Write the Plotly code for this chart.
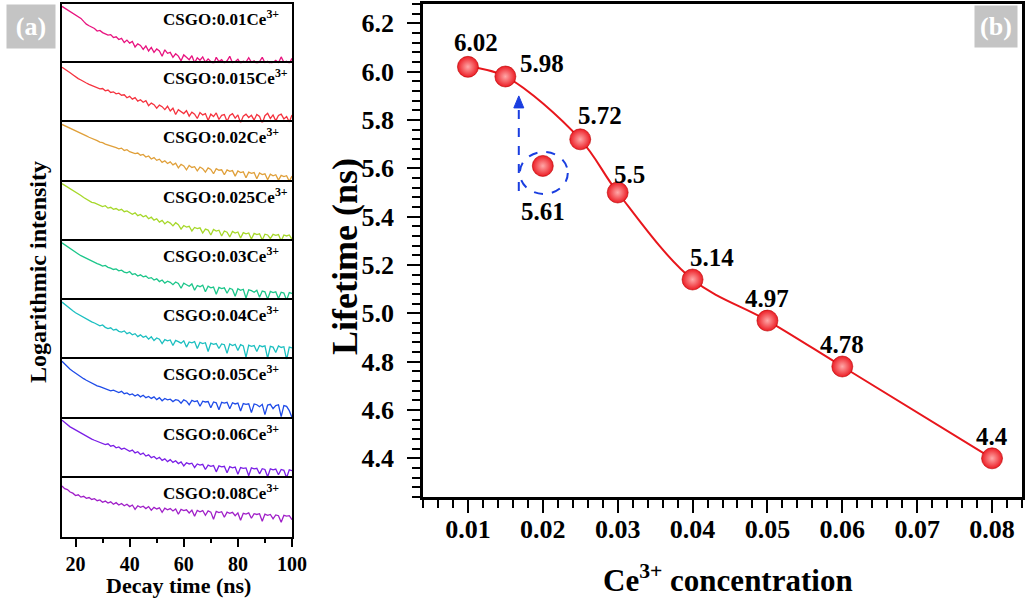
import plotly.graph_objects as go

# ---------------- data ----------------
t_ns = list(range(15, 101))

sample_labels = ["CSGO:0.01Ce<sup>3+</sup>", "CSGO:0.015Ce<sup>3+</sup>", "CSGO:0.02Ce<sup>3+</sup>",
                 "CSGO:0.025Ce<sup>3+</sup>", "CSGO:0.03Ce<sup>3+</sup>", "CSGO:0.04Ce<sup>3+</sup>",
                 "CSGO:0.05Ce<sup>3+</sup>", "CSGO:0.06Ce<sup>3+</sup>", "CSGO:0.08Ce<sup>3+</sup>"]

decay_001 = [3.88, 3.79, 3.70, 3.63, 3.52, 3.46, 3.35, 3.27, 3.12, 2.98,
             2.90, 2.82, 2.76, 2.63, 2.66, 2.55, 2.50, 2.42, 2.45, 2.30,
             2.34, 2.20, 2.26, 2.05, 2.17, 2.02, 2.10, 1.82, 1.98, 1.90,
             1.70, 1.88, 1.62, 1.80, 1.55, 1.72, 1.62, 1.35, 1.68, 1.50,
             1.55, 1.30, 1.48, 1.36, 1.12, 1.42, 1.30, 1.18, 1.38, 1.02,
             1.28, 1.15, 1.32, 1.05, 1.22, 1.10, 0.95, 1.30, 1.08, 1.18,
             1.00, 1.12, 1.35, 1.02, 1.08, 1.20, 0.98, 1.10, 1.06, 1.28,
             1.04, 1.12, 0.96, 1.08, 1.30, 1.02, 1.10, 0.94, 1.06, 1.15,
             1.02, 1.32, 1.05, 1.10, 0.98, 1.25]
decay_0015 = [3.80, 3.72, 3.62, 3.52, 3.42, 3.30, 3.22, 3.15, 3.06, 3.00,
              2.93, 2.88, 2.80, 2.74, 2.70, 2.72, 2.60, 2.64, 2.52, 2.55,
              2.45, 2.48, 2.38, 2.40, 2.25, 2.32, 2.18, 2.26, 2.08, 2.15,
              2.02, 2.10, 1.85, 1.98, 1.90, 1.72, 1.88, 1.80, 1.65, 1.82,
              1.58, 1.72, 1.40, 1.65, 1.55, 1.45, 1.60, 1.32, 1.52, 1.42,
              1.20, 1.50, 1.38, 1.45, 1.10, 1.42, 1.30, 1.48, 1.15, 1.36,
              1.40, 1.05, 1.35, 1.44, 1.22, 1.38, 0.98, 1.32, 1.42, 1.25,
              1.36, 1.12, 1.40, 1.30, 0.95, 1.34, 1.46, 1.20, 1.38, 1.08,
              1.35, 1.42, 1.18, 1.30, 1.02, 1.38]
decay_002 = [3.90, 3.84, 3.76, 3.70, 3.64, 3.58, 3.50, 3.45, 3.38, 3.32,
             3.25, 3.20, 3.12, 3.08, 3.00, 2.98, 2.90, 2.86, 2.80, 2.76,
             2.72, 2.66, 2.70, 2.58, 2.62, 2.52, 2.48, 2.42, 2.45, 2.34,
             2.38, 2.25, 2.30, 2.15, 2.22, 2.08, 2.14, 1.98, 2.06, 1.92,
             2.00, 1.85, 1.94, 1.70, 1.88, 1.80, 1.60, 1.82, 1.72, 1.76,
             1.55, 1.74, 1.66, 1.48, 1.70, 1.62, 1.40, 1.66, 1.58, 1.60,
             1.35, 1.60, 1.52, 1.56, 1.28, 1.54, 1.46, 1.50, 1.20, 1.48,
             1.42, 1.46, 1.15, 1.44, 1.36, 1.40, 1.10, 1.38, 1.30, 1.35,
             1.08, 1.32, 1.26, 1.30, 1.02, 1.28]
decay_0025 = [3.90, 3.82, 3.72, 3.64, 3.55, 3.46, 3.38, 3.30, 3.20, 3.12,
              3.02, 2.95, 2.92, 2.85, 2.80, 2.74, 2.78, 2.66, 2.70, 2.60,
              2.64, 2.55, 2.60, 2.48, 2.52, 2.45, 2.35, 2.42, 2.28, 2.34,
              2.22, 2.28, 2.12, 2.20, 2.05, 2.12, 1.95, 2.04, 1.86, 1.98,
              1.90, 1.76, 1.92, 1.82, 1.60, 1.78, 1.70, 1.74, 1.50, 1.68,
              1.62, 1.66, 1.40, 1.60, 1.55, 1.30, 1.58, 1.50, 1.54, 1.25,
              1.50, 1.44, 1.20, 1.48, 1.40, 1.45, 1.15, 1.42, 1.36, 1.40,
              1.10, 1.38, 1.32, 1.36, 1.05, 1.34, 1.30, 1.12, 1.33, 1.28,
              1.32, 1.00, 1.30, 1.25, 1.30, 1.08]
decay_003 = [3.90, 3.80, 3.70, 3.60, 3.50, 3.42, 3.34, 3.25, 3.18, 3.10,
             3.04, 2.98, 2.90, 2.85, 2.80, 2.72, 2.76, 2.66, 2.62, 2.55,
             2.58, 2.48, 2.52, 2.42, 2.38, 2.45, 2.30, 2.34, 2.22, 2.28,
             2.18, 2.22, 2.10, 2.14, 2.02, 2.08, 1.94, 2.02, 1.86, 1.96,
             1.90, 1.78, 1.92, 1.84, 1.60, 1.86, 1.78, 1.70, 1.82, 1.50,
             1.74, 1.68, 1.76, 1.42, 1.70, 1.62, 1.66, 1.30, 1.64, 1.58,
             1.62, 1.35, 1.60, 1.54, 1.20, 1.58, 1.50, 1.55, 1.10, 1.52,
             1.48, 1.40, 1.50, 1.15, 1.46, 1.42, 1.05, 1.44, 1.38, 1.42,
             1.08, 1.40, 1.36, 1.00, 1.38, 1.34]
decay_004 = [3.90, 3.78, 3.66, 3.56, 3.46, 3.36, 3.28, 3.18, 3.10, 3.04,
             2.96, 2.90, 2.84, 2.78, 2.70, 2.74, 2.62, 2.56, 2.60, 2.48,
             2.52, 2.42, 2.38, 2.44, 2.30, 2.36, 2.24, 2.30, 2.15, 2.24,
             2.12, 2.18, 2.02, 2.14, 1.95, 2.08, 2.02, 1.80, 2.00, 1.94,
             1.98, 1.70, 1.96, 1.90, 1.82, 1.94, 1.62, 1.88, 1.84, 1.90,
             1.55, 1.86, 1.80, 1.84, 1.40, 1.82, 1.76, 1.80, 1.55, 1.78,
             1.74, 1.30, 1.78, 1.70, 1.76, 1.45, 1.74, 1.68, 1.10, 1.72,
             1.66, 1.70, 1.40, 1.70, 1.64, 1.68, 1.05, 1.66, 1.62, 1.35,
             1.68, 1.60, 1.64, 0.98, 1.62, 1.58]
decay_005 = [3.90, 3.76, 3.62, 3.50, 3.40, 3.30, 3.18, 3.10, 3.02, 2.94,
             2.86, 2.80, 2.74, 2.66, 2.62, 2.56, 2.50, 2.46, 2.40, 2.44,
             2.36, 2.32, 2.38, 2.26, 2.30, 2.20, 2.25, 2.14, 2.22, 2.10,
             2.18, 2.06, 2.12, 2.02, 2.10, 1.96, 2.06, 1.90, 2.02, 1.95,
             1.98, 1.86, 1.96, 1.92, 1.78, 1.95, 1.88, 1.70, 1.92, 1.86,
             1.90, 1.62, 1.88, 1.84, 1.86, 1.55, 1.84, 1.80, 1.45, 1.82,
             1.78, 1.82, 1.50, 1.80, 1.74, 1.78, 1.38, 1.76, 1.72, 1.75,
             1.30, 1.74, 1.70, 1.60, 1.72, 1.20, 1.68, 1.72, 1.50, 1.66,
             1.70, 1.10, 1.66, 1.62, 1.40, 1.05]
decay_006 = [3.92, 3.80, 3.70, 3.58, 3.50, 3.42, 3.32, 3.25, 3.16, 3.08,
             3.02, 2.96, 2.90, 2.85, 2.80, 2.74, 2.68, 2.72, 2.60, 2.64,
             2.52, 2.56, 2.45, 2.50, 2.40, 2.34, 2.40, 2.26, 2.32, 2.18,
             2.25, 2.10, 2.16, 2.02, 2.08, 1.95, 2.04, 1.88, 1.96, 1.82,
             1.92, 1.78, 1.86, 1.72, 1.80, 1.60, 1.76, 1.70, 1.74, 1.52,
             1.70, 1.64, 1.68, 1.42, 1.64, 1.58, 1.62, 1.30, 1.60, 1.55,
             1.58, 1.25, 1.56, 1.50, 1.54, 1.18, 1.52, 1.48, 1.50, 1.10,
             1.50, 1.45, 1.48, 1.20, 1.46, 1.42, 1.05, 1.45, 1.40, 1.44,
             1.15, 1.42, 1.38, 1.00, 1.40, 1.36]
decay_008 = [3.58, 3.45, 3.40, 3.28, 3.22, 3.10, 3.14, 3.02, 3.06, 2.96,
             3.00, 2.90, 2.94, 2.84, 2.88, 2.76, 2.82, 2.72, 2.78, 2.66,
             2.74, 2.62, 2.70, 2.58, 2.66, 2.54, 2.62, 2.40, 2.58, 2.50,
             2.56, 2.44, 2.54, 2.36, 2.50, 2.42, 2.48, 2.25, 2.46, 2.38,
             2.44, 2.32, 2.42, 2.15, 2.40, 2.34, 2.38, 2.22, 2.36, 2.05,
             2.35, 2.28, 2.34, 2.10, 2.32, 2.26, 1.90, 2.30, 2.24, 2.28,
             2.00, 2.26, 2.20, 2.25, 2.08, 2.22, 1.85, 2.20, 2.16, 2.22,
             1.95, 2.18, 2.14, 2.18, 1.80, 2.16, 2.10, 2.14, 1.92, 2.12,
             2.08, 1.75, 2.10, 2.06, 2.08, 1.88]

decays = [decay_001, decay_0015, decay_002, decay_0025, decay_003,
          decay_004, decay_005, decay_006, decay_008]

conc = [0.01, 0.015, 0.025, 0.03, 0.04, 0.05, 0.06, 0.08]
lifetime = [6.02, 5.98, 5.72, 5.5, 5.14, 4.97, 4.78, 4.4]
outlier_conc = [0.02]
outlier_life = [5.61]

# ---------------- styles ----------------
W, H = 1028, 601
FONT = "Times New Roman, Liberation Serif, serif"
curve_colors = ["#e8137f", "#f5333f", "#e0a03a", "#a6d82a", "#1cc68a",
                "#1cbfc0", "#1f4ce8", "#7b1fe6", "#a01fc8"]
label_shift = [(8, 24), (37, 13), (20, 24), (12, 18), (19, 22), (0, 22), (0, 22), (0, 22)]
outlier_shift = (0, -46)

a_left, a_right = 62, 292
a_top, a_bot = 4, 537
n = len(decays)
step = (a_bot - a_top) / n

b_left, b_right, b_top, b_bot = 423, 1022, 4, 497


def px(x):
    return x / W


def py(y):
    return 1 - y / H


fig = go.Figure()
layout = dict(width=W, height=H, margin=dict(l=0, r=0, t=0, b=0, autoexpand=False),
              paper_bgcolor="white", plot_bgcolor="white", showlegend=False,
              font=dict(family=FONT, color="black"))

annotations = []
shapes = []

for i, (vals, col, lab) in enumerate(zip(decays, curve_colors, sample_labels)):
    k = i + 1
    xname = "x" if k == 1 else f"x{k}"
    yname = "y" if k == 1 else f"y{k}"
    top = a_top + step * i
    bot = top + step
    fig.add_trace(go.Scatter(x=t_ns, y=vals, mode="lines", xaxis=xname, yaxis=yname,
                             line=dict(color=col, width=1.3)))
    last = (k == n)
    layout[f"xaxis{'' if k == 1 else k}"] = dict(
        domain=[px(a_left), px(a_right)], anchor=yname, range=[15, 100], automargin=False,
        side="bottom" if last else "top",
        showline=True, linecolor="black", linewidth=2, mirror=last,
        showgrid=False, zeroline=False,
        showticklabels=last, ticks="outside" if last else "",
        tick0=0, dtick=20, ticklen=8, tickwidth=2, tickcolor="black",
        tickfont=dict(family=FONT, size=20, color="black", weight="bold"),
        minor=dict(dtick=10, ticks="outside" if last else "", ticklen=4, tickwidth=2, tickcolor="black"),
    )
    layout[f"yaxis{'' if k == 1 else k}"] = dict(
        domain=[py(bot), py(top)], anchor=xname, range=[1.0, 4.0], automargin=False,
        showline=True, linecolor="black", linewidth=2, mirror=True,
        showgrid=False, zeroline=False, showticklabels=False, ticks="",
    )
    annotations.append(dict(x=px(161), y=py(top + 14), xref="paper", yref="paper",
                            xanchor="left", yanchor="middle", text=lab, showarrow=False,
                            font=dict(family=FONT, size=17, color="black", weight="bold")))

# panel (b)
kb = n + 1
sphere = dict(size=21, color="#ec1c24", line=dict(color="#b80000", width=0.6),
              gradient=dict(type="radial", color="#ffa8a8"))
fig.add_trace(go.Scatter(x=conc, y=lifetime, mode="lines+markers", xaxis=f"x{kb}", yaxis=f"y{kb}",
                         line=dict(color="#e8161c", width=2, shape="spline", smoothing=1.0),
                         marker=sphere))
fig.add_trace(go.Scatter(x=outlier_conc, y=outlier_life, mode="markers", xaxis=f"x{kb}", yaxis=f"y{kb}",
                         marker=sphere))

tickfont_b = dict(family=FONT, size=26, color="black", weight="bold")
layout[f"xaxis{kb}"] = dict(
    domain=[px(b_left), px(b_right)], anchor=f"y{kb}", range=[0.004, 0.084], automargin=False,
    showline=True, linecolor="black", linewidth=2.5, mirror=True, showgrid=False, zeroline=False,
    ticks="outside", tick0=0, dtick=0.01, ticklen=13, tickwidth=2, tickcolor="black",
    tickformat=".2f", tickfont=tickfont_b, ticklabelstandoff=-6,
    minor=dict(dtick=0.002, ticks="outside", ticklen=8, tickwidth=2, tickcolor="black"),
)
layout[f"yaxis{kb}"] = dict(
    domain=[py(b_bot), py(b_top)], anchor=f"x{kb}", range=[4.24, 6.28], automargin=False,
    showline=True, linecolor="black", linewidth=2.5, mirror=True, showgrid=False, zeroline=False,
    ticks="outside", tick0=0, dtick=0.2, ticklen=13, tickwidth=2, tickcolor="black",
    tickformat=".1f", tickfont=tickfont_b, ticklabelstandoff=8,
    minor=dict(dtick=0.04, ticks="outside", ticklen=8, tickwidth=2, tickcolor="black"),
)

lab_font = dict(family=FONT, size=25, color="black", weight="bold")
for xv, yv, (dx, dy) in zip(conc, lifetime, label_shift):
    annotations.append(dict(x=xv, y=yv, xref=f"x{kb}", yref=f"y{kb}", text=str(yv),
                            xanchor="center", yanchor="middle",
                            showarrow=False, xshift=dx, yshift=dy, font=lab_font))
for xv, yv in zip(outlier_conc, outlier_life):
    annotations.append(dict(x=xv, y=yv, xref=f"x{kb}", yref=f"y{kb}", text=str(yv),
                            xanchor="center", yanchor="middle",
                            showarrow=False, xshift=outlier_shift[0], yshift=outlier_shift[1],
                            font=lab_font))
    # dashed circle
    shapes.append(dict(type="circle", xref=f"x{kb}", yref=f"y{kb}", xsizemode="pixel", ysizemode="pixel",
                       xanchor=xv, yanchor=yv, x0=-23, x1=25, y0=-28, y1=14,
                       line=dict(color="#1a3ee0", width=2, dash="dash")))
    # dashed arrow
    shapes.append(dict(type="line", xref=f"x{kb}", yref=f"y{kb}", xsizemode="pixel", ysizemode="pixel",
                       xanchor=xv, yanchor=yv, x0=-24, x1=-24, y0=-25, y1=60,
                       line=dict(color="#1a3ee0", width=2, dash="dash")))
    shapes.append(dict(type="path", xref=f"x{kb}", yref=f"y{kb}", xsizemode="pixel", ysizemode="pixel",
                       xanchor=xv, yanchor=yv, path="M -29,58 L -19,58 L -24,70 Z",
                       fillcolor="#1a3ee0", line=dict(color="#1a3ee0", width=1)))

title_font = dict(family=FONT, size=22, color="black", weight="bold")
annotations.append(dict(x=px(178), y=py(585), xref="paper", yref="paper", text="Decay time (ns)",
                        xanchor="center", yanchor="middle", showarrow=False, font=title_font))
annotations.append(dict(x=px(38), y=py(272), xref="paper", yref="paper", text="Logarithmic intensity",
                        xanchor="center", yanchor="middle", showarrow=False, textangle=-90,
                        font=dict(family=FONT, size=24, color="black", weight="bold")))
big_font = dict(family=FONT, size=31, color="black", weight="bold")
annotations.append(dict(x=px(728), y=py(578), xref="paper", yref="paper",
                        text="Ce<sup>3+</sup> concentration", xanchor="center", yanchor="middle",
                        showarrow=False, font=big_font))
annotations.append(dict(x=px(345), y=py(257), xref="paper", yref="paper", text="Lifetime (ns)",
                        xanchor="center", yanchor="middle", showarrow=False, textangle=-90,
                        font=dict(family=FONT, size=36, color="black", weight="bold")))

panel_font = dict(family=FONT, size=26, color="white", weight="bold")
annotations.append(dict(x=px(31), y=py(27), xref="paper", yref="paper", text="(a)", showarrow=False,
                        xanchor="center", yanchor="middle",
                        bgcolor="#c4c4c4", width=48, height=43, borderpad=0, font=panel_font))
annotations.append(dict(x=px(996), y=py(27), xref="paper", yref="paper", text="(b)", showarrow=False,
                        xanchor="center", yanchor="middle",
                        bgcolor="#c4c4c4", width=42, height=41, borderpad=0, font=panel_font))

layout["annotations"] = annotations
layout["shapes"] = shapes
fig.update_layout(**layout)

fig.write_html("out.html", config={"displayModeBar": False},
               post_script="document.body.style.margin='0';")
